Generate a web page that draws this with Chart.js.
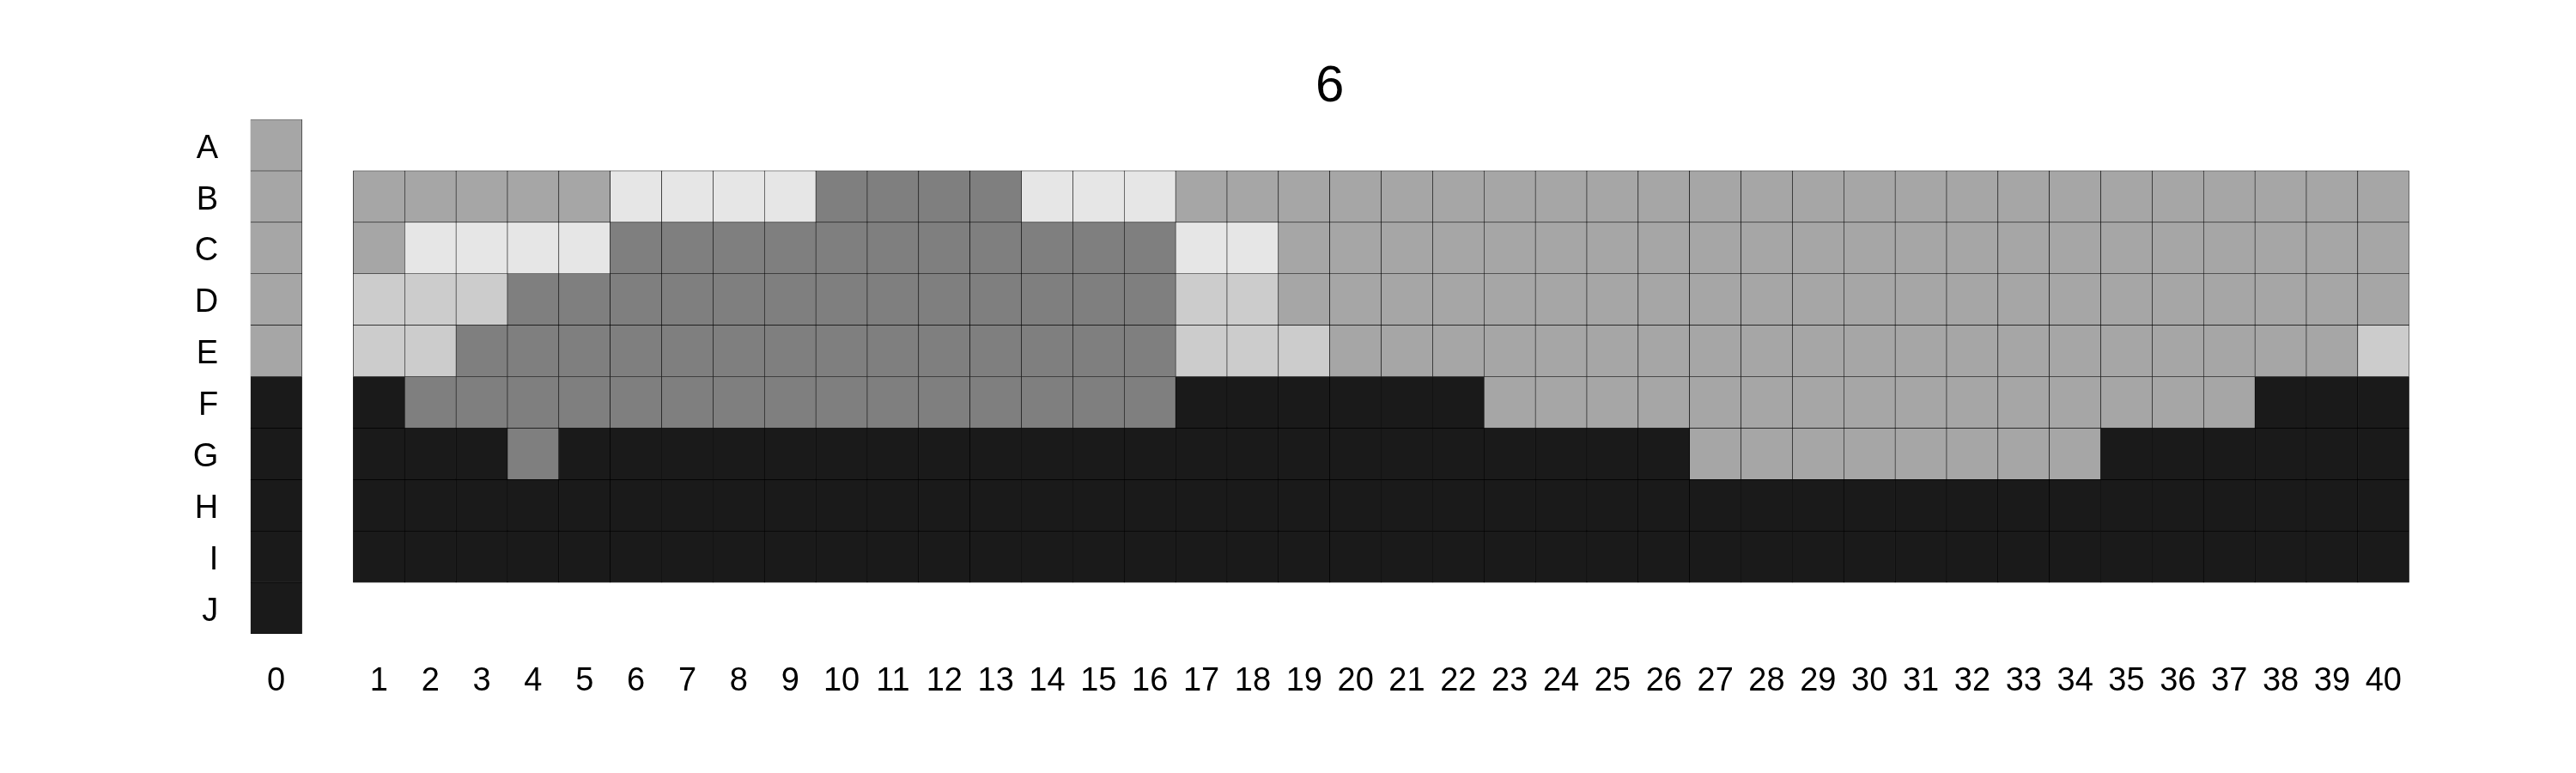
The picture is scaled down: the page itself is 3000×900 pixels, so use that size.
<!DOCTYPE html>
<html>
<head>
<meta charset="utf-8">
<script src="https://cdn.jsdelivr.net/npm/chart.js@4.4.1/dist/chart.umd.min.js"></script>
<style>
  html, body { margin: 0; padding: 0; background: #fff; }
</style>
</head>
<body>
<canvas id="grid6" width="3000" height="900"></canvas>
<script>
// filas y columnas
const rowLabels = ["A", "B", "C", "D", "E", "F", "G", "H", "I", "J"];
const colLabels = ["0", "1", "2", "3", "4", "5", "6", "7", "8", "9", "10",
  "11", "12", "13", "14", "15", "16", "17", "18", "19", "20",
  "21", "22", "23", "24", "25", "26", "27", "28", "29", "30",
  "31", "32", "33", "34", "35", "36", "37", "38", "39", "40"];

// niveles de gris (0 = casi negro ... 4 = casi blanco)
const greys = ["#1a1a1a", "#7f7f7f", "#a6a6a6", "#cccccc", "#e6e6e6"];

// columna 0, filas A-J
const col0 = [2, 2, 2, 2, 2, 0, 0, 0, 0, 0];

// columnas 1-40, filas B-I
const rowB = [2, 2, 2, 2, 2, 4, 4, 4, 4, 1, 1, 1, 1, 4, 4, 4, 2, 2, 2, 2,
  2, 2, 2, 2, 2, 2, 2, 2, 2, 2, 2, 2, 2, 2, 2, 2, 2, 2, 2, 2];
const rowC = [2, 4, 4, 4, 4, 1, 1, 1, 1, 1, 1, 1, 1, 1, 1, 1, 4, 4, 2, 2,
  2, 2, 2, 2, 2, 2, 2, 2, 2, 2, 2, 2, 2, 2, 2, 2, 2, 2, 2, 2];
const rowD = [3, 3, 3, 1, 1, 1, 1, 1, 1, 1, 1, 1, 1, 1, 1, 1, 3, 3, 2, 2,
  2, 2, 2, 2, 2, 2, 2, 2, 2, 2, 2, 2, 2, 2, 2, 2, 2, 2, 2, 2];
const rowE = [3, 3, 1, 1, 1, 1, 1, 1, 1, 1, 1, 1, 1, 1, 1, 1, 3, 3, 3, 2,
  2, 2, 2, 2, 2, 2, 2, 2, 2, 2, 2, 2, 2, 2, 2, 2, 2, 2, 2, 3];
const rowF = [0, 1, 1, 1, 1, 1, 1, 1, 1, 1, 1, 1, 1, 1, 1, 1, 0, 0, 0, 0,
  0, 0, 2, 2, 2, 2, 2, 2, 2, 2, 2, 2, 2, 2, 2, 2, 2, 0, 0, 0];
const rowG = [0, 0, 0, 1, 0, 0, 0, 0, 0, 0, 0, 0, 0, 0, 0, 0, 0, 0, 0, 0,
  0, 0, 0, 0, 0, 0, 2, 2, 2, 2, 2, 2, 2, 2, 0, 0, 0, 0, 0, 0];
const rowH = [0, 0, 0, 0, 0, 0, 0, 0, 0, 0, 0, 0, 0, 0, 0, 0, 0, 0, 0, 0,
  0, 0, 0, 0, 0, 0, 0, 0, 0, 0, 0, 0, 0, 0, 0, 0, 0, 0, 0, 0];
const rowI = [0, 0, 0, 0, 0, 0, 0, 0, 0, 0, 0, 0, 0, 0, 0, 0, 0, 0, 0, 0,
  0, 0, 0, 0, 0, 0, 0, 0, 0, 0, 0, 0, 0, 0, 0, 0, 0, 0, 0, 0];

const mainRows = { B: rowB, C: rowC, D: rowD, E: rowE, F: rowF, G: rowG, H: rowH, I: rowI };

// eje x: columna 0, un hueco vacío y luego 1-40
const xLabels = [colLabels[0], ""].concat(colLabels.slice(1));

// un dataset por fila, cada celda es una barra flotante [fila, fila+1]
const datasets = rowLabels.map((row, r) => {
  const codes = [col0[r], null].concat(mainRows[row] || new Array(40).fill(null));
  return {
    label: row,
    data: codes.map((c) => (c === null ? null : [r, r + 1])),
    backgroundColor: codes.map((c) => (c === null ? "rgba(0,0,0,0)" : greys[c])),
    borderColor: "#000",
    borderWidth: 0.6,
    borderSkipped: false,
    grouped: false,
    barPercentage: 1,
    categoryPercentage: 1,
  };
});

const font = { family: "'Liberation Sans', Arial, sans-serif", size: 38 };

new Chart(document.getElementById("grid6").getContext("2d"), {
  type: "bar",
  data: { labels: xLabels, datasets: datasets },
  options: {
    responsive: false,
    animation: false,
    devicePixelRatio: 1,
    layout: { padding: { top: 65, left: 0, right: 194.3, bottom: 0 } },
    plugins: {
      legend: { display: false },
      tooltip: { enabled: false },
      title: {
        display: true,
        text: "6",
        fullSize: false,
        color: "#000",
        font: { family: font.family, size: 60, weight: "normal" },
        padding: { top: 0, bottom: 2 },
      },
    },
    scales: {
      x: {
        type: "category",
        offset: true,
        grid: { display: false, drawTicks: false },
        border: { display: false },
        ticks: { autoSkip: false, maxRotation: 0, padding: 33, color: "#000", font: font },
        afterFit: (scale) => { scale.height = 162; },
      },
      y: {
        type: "linear",
        min: 0,
        max: 10,
        reverse: true,
        grid: { display: false, drawTicks: false },
        border: { display: false },
        // etiquetas centradas en cada fila (un poco más abajo, como en el original)
        afterBuildTicks: (scale) => {
          scale.ticks = rowLabels.map((_, i) => ({ value: i + 0.57 }));
        },
        ticks: {
          padding: 37.5,
          color: "#000",
          font: font,
          callback: (value) => rowLabels[Math.floor(value)],
        },
        afterFit: (scale) => { scale.width = 291.7; },
      },
    },
  },
});
</script>
</body>
</html>
